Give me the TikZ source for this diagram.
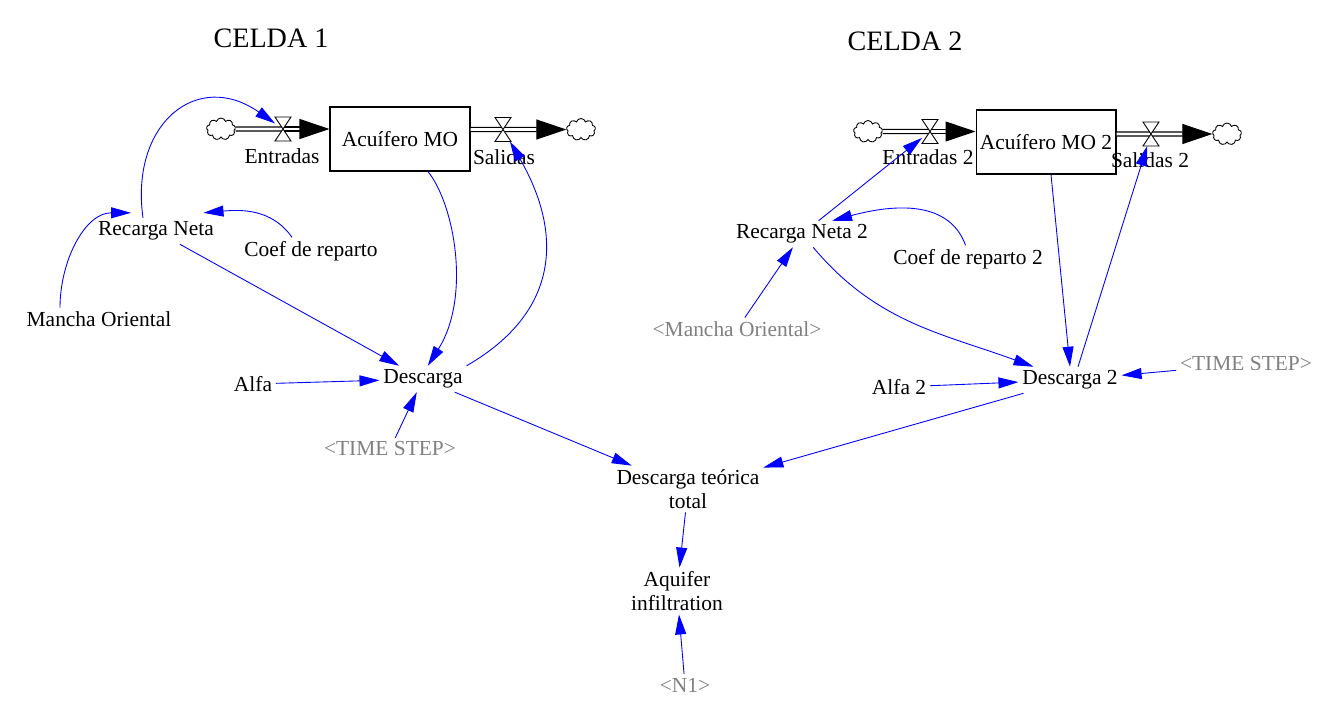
\documentclass[tikz,border=0pt]{standalone}
\usepackage{fontspec}
\setmainfont{Liberation Serif}
\usetikzlibrary{positioning,arrows.meta,shapes.symbols}
\definecolor{ghostgray}{RGB}{128,128,128}
\tikzstyle{var} = [align=center,inner sep=2pt,font=\fontsize{12.2}{13.6}\selectfont]
\tikzstyle{ghost} = [var,text=ghostgray]
\tikzstyle{stock} = [var,draw,inner sep=1pt,line width=0.6pt,minimum width=2.8cm,minimum height=1.28cm]
\tikzstyle{title} = [font=\fontsize{16}{19}\selectfont]
\tikzstyle{valve} = [inner sep=0,outer sep=0,minimum width=0.32cm,minimum height=0.48cm]
\tikzstyle{sink} = [cloud,draw,cloud puffs=9,aspect=1.3,inner sep=0,minimum width=0.58cm,minimum height=0.44cm,line width=0.5pt]
\tikzstyle{pipe} = [double,double distance=1.7pt,line width=0.6pt]
\tikzstyle{flow} = [pipe,-{Triangle[length=0.6cm,width=0.4cm]}]
\tikzstyle{arrow} = [blue,line width=0.5pt,-{Triangle[length=0.4cm,width=0.22cm]}]

\begin{document}
\begin{tikzpicture}[x=0.02cm,y=-0.02cm]
    \useasboundingbox (0,0) rectangle (1318,703);
    \node [title] (t1) at (271,38) {CELDA 1};
    \node [title] (t2) at (905,41) {CELDA 2};
    \node [stock] (b1) at (400,139) {Acuífero MO};
    \node [stock] (b2) at (1046,142) {Acuífero MO 2};
    \node [sink] (c1) at (221,129) {};
    \node [sink] (c2) at (581,129.5) {};
    \node [sink] (c3) at (868,131.5) {};
    \node [sink] (c4) at (1227,134) {};
    \node [valve] (f1) at (283,129) {};
    \node [valve] (f2) at (503,129.5) {};
    \node [valve] (f3) at (930,131.5) {};
    \node [valve] (f4) at (1151,134) {};

    \draw [pipe] (c1) -- (f1.center);
    \draw [flow] (f1.center) -- (f1 -| b1.west);
    \draw [flow] (f2 -| b1.east) -- (c2);
    \draw [pipe] (c3) -- (f3.center);
    \draw [flow] (f3.center) -- (f3 -| b2.west);
    \draw [flow] (f4 -| b2.east) -- (c4);
    \foreach \f in {f1,f2,f3,f4}
        \draw [fill=white,line width=0.5pt] (\f.south west) -- (\f.south east) -- (\f.north west) -- (\f.north east) -- cycle;

    \node [var] (e1) at (282,156) {Entradas};
    \node [var] (s1) at (504,157) {Salidas};
    \node [var] (e2) at (928,157) {Entradas 2};
    \node [var] (s2) at (1150,160) {Salidas 2};

    \node [var] (rn1) at (156,231) {Recarga Neta};
    \node [var] (cr1) at (311,251) {Coef de reparto};
    \node [var] (mo1) at (99,319) {Mancha Oriental};
    \node [var] (al1) at (253,384) {Alfa};
    \node [var] (d1) at (423,379) {Descarga};
    \node [ghost] (ts1) at (390,449) {<TIME STEP>};
    \node [var] (dt) at (688,489) {Descarga teórica\\total};
    \node [var] (ai) at (677,591) {Aquifer\\infiltration};
    \node [ghost] (n1) at (685,685) {<N1>};
    \node [var] (rn2) at (802,234) {Recarga Neta 2};
    \node [var] (cr2) at (968,259) {Coef de reparto 2};
    \node [ghost] (mo2) at (737,329) {<Mancha Oriental>};
    \node [var] (al2) at (899,387) {Alfa 2};
    \node [var] (d2) at (1070,380) {Descarga 2};
    \node [ghost] (ts2) at (1246,364) {<TIME STEP>};

    \draw [arrow] ([xshift=-0.26cm]rn1.north) to[out=98,in=145,looseness=1.5] (f1);
    \draw [arrow] ([xshift=-0.78cm]mo1.north) to[out=90,in=180] ([xshift=-0.5cm,yshift=0.1cm]rn1.north);
    \draw [arrow] ([xshift=-0.38cm]cr1.north) to[out=125,in=5] ([xshift=0.95cm,yshift=0.1cm]rn1.north);
    \draw [arrow] (rn1) -- (d1);
    \draw [arrow] ([xshift=0.56cm]b1.south) .. controls +(27,34) and +(43,-68) .. (d1.70);
    \draw [arrow] (d1.north east) to[out=30,in=-60,looseness=1.2] (f2);
    \draw [arrow] (al1) -- (d1);
    \draw [arrow] (ts1) -- (d1);
    \draw [arrow] (d1) -- (dt);
    \draw [arrow] (d2) -- (dt);
    \draw [arrow] (dt) -- (ai);
    \draw [arrow] (n1) -- (ai);
    \draw [arrow] (rn2) -- (f3);
    \draw [arrow] (cr2.100) to[out=110,in=15] ([xshift=0.6cm]rn2.north);
    \draw [arrow] (mo2) -- (rn2);
    \draw [arrow] (rn2) to[out=-50,in=160] (d2);
    \draw [arrow] ([xshift=0.1cm]b2.south) -- (d2.north);
    \draw [arrow] ([xshift=0.16cm]d2.north) -- (f4);
    \draw [arrow] (al2) -- (d2);
    \draw [arrow] (ts2) -- (d2);
\end{tikzpicture}
\end{document}
